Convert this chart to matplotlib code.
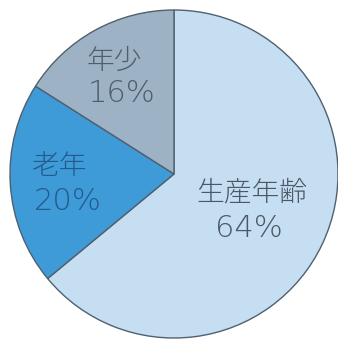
import matplotlib
matplotlib.use("Agg")
import matplotlib.pyplot as plt

plt.rcParams['font.family'] = ['Noto Sans CJK JP', 'DejaVu Sans']

# Population share by age group
labels = ["生産年齢", "老年", "年少"]
shares = [64, 20, 16]
colors = ["#c6def1", "#3f9ad8", "#9db2c5"]
text_colors = ["#4a5866", "#235c8c", "#4d5e6e"]

fig = plt.figure(figsize=(3.38, 3.40), dpi=100)
fig.patch.set_facecolor("white")

# Pie centred at (174, 174) px with radius 164 px
R, cx, cy = 164, 174, 340 - 174
ax = fig.add_axes([(cx - R) / 338, (cy - R) / 340, 2 * R / 338, 2 * R / 340])
ax.pie(shares, colors=colors, startangle=90, counterclock=False, radius=1,
       wedgeprops=dict(edgecolor="#50606e", linewidth=1.0))
ax.set_xlim(-1, 1)
ax.set_ylim(-1, 1)
ax.set_aspect("equal")
ax.axis("off")

fs_name = 20
fs_pct = 22
# label placement (name line, percent line) in data units
places = [
    dict(x=0.475, y1=-0.115, y2=-0.33, ha="center"),
    dict(x=-0.865, y1=0.05, y2=-0.17, ha="left"),
    dict(x=-0.535, y1=0.69, y2=0.49, ha="left"),
]
for lab, val, tc, p in zip(labels, shares, text_colors, places):
    ax.text(p["x"], p["y1"], lab, ha=p["ha"], va="center", fontsize=fs_name,
            color=tc, fontweight="light")
    ax.text(p["x"] + (0.01 if p["ha"] == "left" else -0.02), p["y2"], f"{val}%",
            ha=p["ha"], va="center", fontsize=fs_pct, color=tc,
            family=["DejaVu Sans"], fontweight="light")

fig.savefig("out.png", dpi=100, facecolor="white")
